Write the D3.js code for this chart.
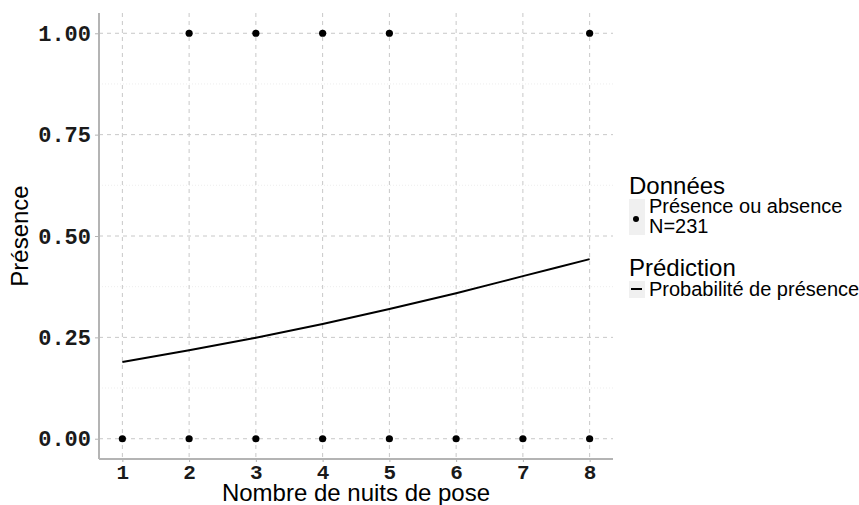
<!DOCTYPE html>
<html>
<head>
<meta charset="utf-8">
<script src="https://cdn.jsdelivr.net/npm/d3@7"></script>
<style>
  html, body { margin: 0; padding: 0; background: #fff; }
  svg { display: block; }
</style>
</head>
<body>
<svg id="chart" width="859" height="505"></svg>
<script>
// Observed presence (1) / absence (0) by number of nights the trap was set
const obsNights   = [1, 2, 3, 4, 5, 6, 7, 8, 2, 3, 4, 5, 8];
const obsPresence = [0, 0, 0, 0, 0, 0, 0, 0, 1, 1, 1, 1, 1];

// Predicted probability of presence
const predNights = [1, 2, 3, 4, 5, 6, 7, 8];
const predProb   = [0.189, 0.218, 0.249, 0.283, 0.320, 0.359, 0.401, 0.443];

const xTicks = [1, 2, 3, 4, 5, 6, 7, 8];
const yTicks = [0, 0.25, 0.5, 0.75, 1];
const yMinor = [0.125, 0.375, 0.625, 0.875];

const legendData = { title: "Données", lines: ["Présence ou absence", "N=231"] };
const legendPred = { title: "Prédiction", lines: ["Probabilité de présence"] };

const svg = d3.select("#chart");
const panel = { left: 99, right: 613, top: 13, bottom: 459 };

const x = d3.scaleLinear().domain([0.65, 8.35]).range([panel.left, panel.right]);
const y = d3.scaleLinear().domain([-0.05, 1.05]).range([panel.bottom, panel.top]);

const tickFont = "'Liberation Mono', 'DejaVu Sans Mono', monospace";
const textFont = "'Liberation Sans', Arial, sans-serif";

// minor horizontal grid
svg.append("g").selectAll("line").data(yMinor).join("line")
  .attr("x1", panel.left).attr("x2", panel.right)
  .attr("y1", d => y(d)).attr("y2", d => y(d))
  .attr("stroke", "#e8e8e8").attr("stroke-width", 0.8)
  .attr("stroke-dasharray", "1,2");

// major grid
svg.append("g").selectAll("line").data(yTicks).join("line")
  .attr("x1", panel.left).attr("x2", panel.right)
  .attr("y1", d => y(d)).attr("y2", d => y(d))
  .attr("stroke", "#c8c8c8").attr("stroke-width", 1)
  .attr("stroke-dasharray", "4,4");
svg.append("g").selectAll("line").data(xTicks).join("line")
  .attr("x1", d => x(d)).attr("x2", d => x(d))
  .attr("y1", panel.top).attr("y2", panel.bottom)
  .attr("stroke", "#c8c8c8").attr("stroke-width", 1)
  .attr("stroke-dasharray", "4,4");

// axes
const yAxis = d3.axisLeft(y).tickValues(yTicks).tickFormat(d3.format(".2f")).tickSize(4).tickPadding(4);
const xAxis = d3.axisBottom(x).tickValues(xTicks).tickFormat(d3.format("d")).tickSize(3).tickPadding(3);

const gy = svg.append("g").attr("transform", `translate(${panel.left},0)`).call(yAxis);
const gx = svg.append("g").attr("transform", `translate(0,${panel.bottom})`).call(xAxis);
[gx, gy].forEach(g => {
  g.select(".domain").attr("stroke", "#b4b4b4").attr("stroke-width", 2);
  g.selectAll(".tick line").attr("stroke", "#b4b4b4");
  g.selectAll(".tick text")
    .attr("fill", "#1a1a1a")
    .style("font-family", tickFont)
    .style("font-weight", "bold");
});
gy.selectAll(".tick text").style("font-size", "22px");
gx.selectAll(".tick text").style("font-size", "21px").attr("y", 5).attr("dy", "0.71em");
gy.select(".domain").attr("d", `M0,${panel.top}V${panel.bottom}`);
gx.select(".domain").attr("d", `M${panel.left},0H${panel.right}`);

// prediction curve
const line = d3.line().x((d, i) => x(predNights[i])).y(d => y(d)).curve(d3.curveMonotoneX);
svg.append("path").datum(predProb)
  .attr("d", line)
  .attr("fill", "none").attr("stroke", "#000").attr("stroke-width", 2);

// observations
svg.append("g").selectAll("circle").data(obsNights).join("circle")
  .attr("cx", d => x(d))
  .attr("cy", (d, i) => y(obsPresence[i]))
  .attr("r", 3.6).attr("fill", "#000");

// axis titles
svg.append("text")
  .attr("x", (panel.left + panel.right) / 2).attr("y", 501)
  .attr("text-anchor", "middle")
  .style("font-family", textFont).style("font-size", "24px").attr("fill", "#000")
  .text("Nombre de nuits de pose");
svg.append("text")
  .attr("transform", `translate(28,${(panel.top + panel.bottom) / 2}) rotate(-90)`)
  .attr("text-anchor", "middle")
  .style("font-family", textFont).style("font-size", "24px").attr("fill", "#000")
  .text("Présence");

// legend
const lg = svg.append("g").attr("transform", "translate(629,0)");
lg.append("text").attr("x", 0).attr("y", 194)
  .style("font-family", textFont).style("font-size", "24px").text(legendData.title);
lg.append("rect").attr("x", 0).attr("y", 199).attr("width", 16).attr("height", 36).attr("fill", "#f0f0f0");
lg.append("circle").attr("cx", 7).attr("cy", 219).attr("r", 3).attr("fill", "#000");
lg.selectAll("text.l1").data(legendData.lines).join("text").attr("class", "l1")
  .attr("x", 20).attr("y", (d, i) => 213 + i * 20)
  .style("font-family", textFont).style("font-size", "20px").text(d => d);

lg.append("text").attr("x", 0).attr("y", 276)
  .style("font-family", textFont).style("font-size", "24px").text(legendPred.title);
lg.append("rect").attr("x", 0).attr("y", 281).attr("width", 16).attr("height", 17).attr("fill", "#f0f0f0");
lg.append("line").attr("x1", 2).attr("x2", 13).attr("y1", 289).attr("y2", 289)
  .attr("stroke", "#000").attr("stroke-width", 2);
lg.selectAll("text.l2").data(legendPred.lines).join("text").attr("class", "l2")
  .attr("x", 20).attr("y", 296)
  .style("font-family", textFont).style("font-size", "20px").text(d => d);
</script>
</body>
</html>
